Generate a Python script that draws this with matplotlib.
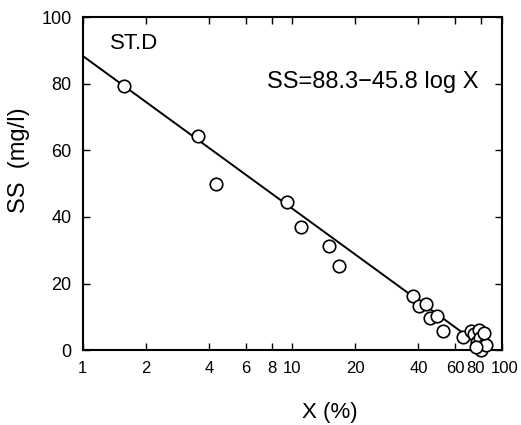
import numpy as np
import matplotlib
matplotlib.use("Agg")
import matplotlib.pyplot as plt
import matplotlib.transforms as mtrans
from matplotlib.ticker import FixedLocator, FixedFormatter, NullLocator

plt.rcParams['font.family'] = ['Liberation Sans', 'DejaVu Sans']

# observed points (X in %, SS in mg/l)
x_pct = [1.57, 3.55, 4.33, 9.46, 11.0, 14.9, 16.8, 37.5, 40.1, 43.3, 45.7,
         48.9, 52.2, 65.0, 71.0, 74.0, 77.7, 76.0, 79.0, 82.0, 80.0, 84.5,
         82.6, 75.0]
ss = [79.3, 64.2, 49.8, 44.4, 36.9, 31.2, 25.2, 16.2, 13.2, 13.8, 9.6,
      10.2, 5.7, 3.9, 5.7, 4.8, 6.0, 2.4, 3.6, 1.5, 0.0, 1.5,
      5.1, 0.9]

# regression SS = a - b log X
a_coef = 88.3
b_coef = 45.8

xticks = [1, 2, 4, 6, 8, 10, 20, 40, 60, 80, 100]
yticks = [0, 20, 40, 60, 80, 100]

fig = plt.figure(figsize=(5.21, 4.25), dpi=100)
ax = fig.add_axes([0.159, 0.176, 0.804, 0.784])

x_end = 10 ** (a_coef / b_coef)
xl = np.array([1, x_end])
ax.plot(xl, a_coef - b_coef * np.log10(xl), color='black', lw=1.4, zorder=2)
ax.plot(x_pct, ss, 'o', mfc='white', mec='black', ms=9, mew=1.2,
        zorder=3, clip_on=False)

ax.set_xscale('log')
ax.set_xlim(1, 100)
ax.set_ylim(0, 100)
ax.xaxis.set_major_locator(FixedLocator(xticks))
ax.xaxis.set_major_formatter(FixedFormatter([str(t) for t in xticks]))
ax.xaxis.set_minor_locator(NullLocator())
ax.set_yticks(yticks)

ax.tick_params(direction='in', top=True, right=True, length=5, width=1,
               pad=8)
ax.tick_params(axis='x', labelsize=12)
ax.tick_params(axis='y', labelsize=13)
for s in ax.spines.values():
    s.set_linewidth(1.5)

# nudge "80" left and "100" right so they don't run together
shifts = {'80': -6, '100': 3}
for lab in ax.get_xticklabels():
    dx = shifts.get(lab.get_text())
    if dx:
        off = mtrans.ScaledTranslation(dx / 100, 0, fig.dpi_scale_trans)
        lab.set_transform(lab.get_transform() + off)

ax.set_xlabel('X (%)', fontsize=16)
ax.xaxis.set_label_coords(0.59, -0.155)
ax.set_ylabel('SS  (mg/l)', fontsize=17)
ax.yaxis.set_label_coords(-0.125, 0.57)

ax.text(0.064, 0.92, 'ST.D', transform=ax.transAxes, fontsize=16,
        va='center', ha='left')
ax.text(0.44, 0.805, 'SS=88.3\u221245.8 log X', transform=ax.transAxes,
        fontsize=17, va='center', ha='left')

fig.savefig('out.png', dpi=100)
